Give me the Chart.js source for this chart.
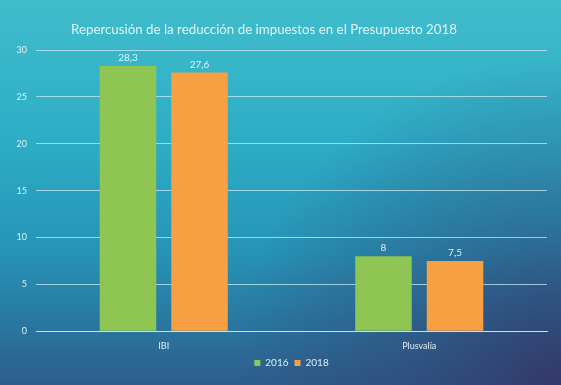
<!DOCTYPE html>
<html><head><meta charset="utf-8">
<script src="https://cdn.jsdelivr.net/npm/chart.js@4/dist/chart.umd.min.js"></script>
<style>html,body{margin:0;padding:0;background:#2a8fb0;}canvas{display:block;}</style>
</head><body>
<canvas id="c" width="561" height="385"></canvas>
<script>
const categories = ["IBI", "Plusvalía"];
const series2016 = [28.3, 8];
const series2018 = [27.6, 7.5];
const seriesNames = ["2016", "2018"];
const yTicks = [0, 5, 10, 15, 20, 25, 30];
const titleText = "Repercusión de la reducción de impuestos en el Presupuesto 2018";

const FONT = "Lato, 'Open Sans', sans-serif";
const TXT = "rgba(235,248,250,0.92)";

const bgPlugin = {
  id: 'bg',
  beforeDraw(chart) {
    const {ctx, width, height} = chart;
    ctx.save();
    let g = ctx.createLinearGradient(0, 0, 0, height);
    g.addColorStop(0, '#40bccb');
    g.addColorStop(0.35, '#2eaec6');
    g.addColorStop(0.65, '#2694b6');
    g.addColorStop(1, '#2d5e8c');
    ctx.fillStyle = g;
    ctx.fillRect(0, 0, width, height);
    let r = ctx.createRadialGradient(width, height, 0, width, height, 330);
    r.addColorStop(0, 'rgba(52,50,100,0.85)');
    r.addColorStop(0.5, 'rgba(50,60,110,0.4)');
    r.addColorStop(1, 'rgba(50,60,110,0)');
    ctx.fillStyle = r;
    ctx.fillRect(0, 0, width, height);
    ctx.restore();
  }
};

const titlePlugin = {
  id: 'ttl',
  afterDraw(chart) {
    const ctx = chart.ctx;
    ctx.save();
    ctx.font = "13.3px " + FONT;
    ctx.fillStyle = TXT;
    ctx.textAlign = 'center';
    ctx.textBaseline = 'middle';
    ctx.fillText(titleText, 264, 30);
    ctx.restore();
  }
};

const labelPlugin = {
  id: 'vals',
  afterDatasetsDraw(chart) {
    const ctx = chart.ctx;
    ctx.save();
    ctx.font = "10px " + FONT;
    ctx.fillStyle = TXT;
    ctx.textAlign = 'center';
    ctx.textBaseline = 'bottom';
    chart.data.datasets.forEach((ds, i) => {
      chart.getDatasetMeta(i).data.forEach((bar, j) => {
        ctx.fillText(String(ds.data[j]).replace('.', ','), bar.x, bar.y - 3);
      });
    });
    ctx.restore();
  }
};

new Chart(document.getElementById('c'), {
  type: 'bar',
  data: {
    labels: categories,
    datasets: [
      {label: seriesNames[0], data: series2016, backgroundColor: '#8fc552'},
      {label: seriesNames[1], data: series2018, backgroundColor: '#f6a043'}
    ]
  },
  options: {
    responsive: false,
    animation: false,
    devicePixelRatio: 1,
    layout: {padding: {left: 0, right: 14, top: 50, bottom: 7}},
    datasets: {bar: {categoryPercentage: 0.56, barPercentage: 0.79}},
    plugins: {
      title: {display: false},
      legend: {position: 'bottom', fullSize: false, labels: {color: TXT, font: {family: FONT, size: 10},
        boxWidth: 6, boxHeight: 6, padding: 6}},
      tooltip: {enabled: false}
    },
    scales: {
      x: {
        grid: {display: false},
        border: {display: true, color: 'rgba(200,235,242,0.8)', width: 1},
        ticks: {color: TXT, font: {family: FONT, size: 9}, padding: 1}
      },
      y: {
        min: 0, max: 30,
        afterBuildTicks(s) { s.ticks = yTicks.map(v => ({value: v})); },
        afterFit(s) { s.width = 36; },
        grid: {color: 'rgba(200,235,242,0.75)', drawTicks: false},
        border: {display: false},
        ticks: {color: TXT, font: {family: FONT, size: 9}, padding: 9}
      }
    }
  },
  plugins: [bgPlugin, labelPlugin, titlePlugin]
});
</script>
</body></html>
